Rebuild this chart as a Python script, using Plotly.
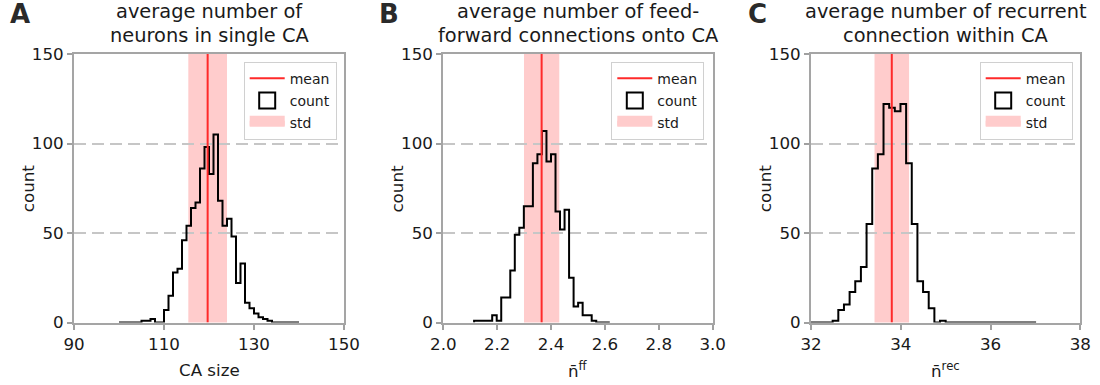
import numpy as np
import plotly.graph_objects as go

# ---------------- data ----------------
# Panel A: CA size histogram (bins of width 1 starting at 100)
a_bin_start = 100.0
a_bin_width = 1.0
a_counts = [0, 0, 0, 0, 0, 1, 1, 2, 0, 0,
            7, 15, 28, 30, 46, 54, 64, 67, 86, 98,
            83, 105, 68, 54, 58, 48, 22, 33, 11, 8,
            5, 3, 2, 1, 0, 0, 0, 0, 0, 0]
a_mean = 119.7
a_std = 4.3

# Panel B: feed-forward connections
b_bin_start = 2.1143
b_bin_width = 0.01679
b_counts = [1, 1, 1, 1, 4, 1, 14, 14, 29, 49,
            53, 65, 65, 89, 94, 107, 90, 94, 62, 52,
            63, 25, 9, 11, 4, 4, 1, 0, 0, 0]
b_mean = 2.365
b_std = 0.0655

# Panel C: recurrent connections
c_bin_start = 31.979
c_bin_width = 0.1259
c_counts = [0, 0, 0, 0, 1, 7, 10, 17, 23, 31,
            55, 86, 94, 122, 120, 118, 122, 89, 55, 23,
            17, 8, 0, 1, 0, 0, 0, 0, 0, 0,
            0, 0, 0, 0, 0, 0, 0, 0, 0, 0]
c_mean = 33.8
c_std = 0.385

panel_letters = ["A", "B", "C"]
title_lines = [["average number of", "neurons in single CA"],
               ["average number of feed-", "forward connections onto CA"],
               ["average number of recurrent", "connection within CA"]]
x_labels = ["CA size", "n\u0304<sup>ff</sup>", "n\u0304<sup>rec</sup>"]
x_ranges = [[90, 150], [2.0, 3.0], [32, 38]]
x_tickvals = [[90, 110, 130, 150], [2.0, 2.2, 2.4, 2.6, 2.8, 3.0], [32, 34, 36, 38]]
x_ticktext = [["90", "110", "130", "150"], ["2.0", "2.2", "2.4", "2.6", "2.8", "3.0"],
              ["32", "34", "36", "38"]]
y_range = [0, 150]
y_tickvals = [0, 50, 100, 150]
legend_names = ["mean", "count", "std"]

panels = [
    dict(start=a_bin_start, width=a_bin_width, counts=a_counts, mean=a_mean, std=a_std),
    dict(start=b_bin_start, width=b_bin_width, counts=b_counts, mean=b_mean, std=b_std),
    dict(start=c_bin_start, width=c_bin_width, counts=c_counts, mean=c_mean, std=c_std),
]

# ---------------- style / layout ----------------
W, H = 1100, 385
FONT = "DejaVu Sans"
TXT = "#1a1a1a"
SPINE = "rgba(105,105,105,0.6)"
TICKC = "#a0a0a0"
GRID = "#c6c6c6"
MEAN_COLOR = "#ff2a2a"
STD_COLOR = "rgba(255,0,0,0.2)"
STD_LEGEND = "#ffcccc"

ax_left = [74, 443.3, 811]
ax_right = [344, 712.7, 1080.3]
ax_top, ax_bottom = 54, 322.5
legend_right = [336.7, 704.3, 1072.7]
legend_top = 61.7


def px(xp):
    return xp / W


def py(yp):
    return 1 - yp / H


fig = go.Figure()
layout = dict(width=W, height=H,
              margin=dict(l=0, r=0, t=0, b=0, pad=0, autoexpand=False),
              paper_bgcolor="white", plot_bgcolor="white",
              font=dict(family=FONT, color=TXT), showlegend=True)
annotations = []

for i, p in enumerate(panels):
    sfx = "" if i == 0 else str(i + 1)
    xref, yref = "x" + sfx, "y" + sfx
    leg = "legend" + sfx
    counts = np.array(p["counts"], dtype=float)
    edges = p["start"] + p["width"] * np.arange(len(counts) + 1)

    # std band (below grid like matplotlib axvspan)
    fig.add_shape(type="rect", x0=p["mean"] - p["std"], x1=p["mean"] + p["std"],
                  y0=0, y1=1, xref=xref, yref=yref + " domain",
                  fillcolor=STD_COLOR, line=dict(width=0), layer="below")

    # step histogram outline
    sx = np.concatenate([[edges[0]], edges[:-1], [edges[-1]]])
    sy = np.concatenate([[0.0], counts, [0.0]])
    fig.add_trace(go.Scatter(
        x=sx, y=sy, mode="lines", line=dict(color="black", width=2, shape="hv"),
        xaxis=xref, yaxis=yref, showlegend=False, hoverinfo="skip"))

    # mean line
    fig.add_trace(go.Scatter(
        x=[p["mean"], p["mean"]], y=y_range, mode="lines",
        line=dict(color=MEAN_COLOR, width=2), name=legend_names[0],
        xaxis=xref, yaxis=yref, legend=leg, legendgroup=f"m{i}",
        hoverinfo="skip"))
    # legend proxies for the histogram outline and std band
    fig.add_trace(go.Scatter(
        x=[None], y=[None], mode="markers", name=legend_names[1],
        marker=dict(symbol="square-open", size=16, color="black",
                    line=dict(color="black", width=2)),
        xaxis=xref, yaxis=yref, legend=leg, legendgroup=f"c{i}", hoverinfo="skip"))
    fig.add_trace(go.Scatter(
        x=[None], y=[None], mode="lines", fill="toself", fillcolor=STD_LEGEND,
        line=dict(color=STD_LEGEND, width=10), name=legend_names[2],
        xaxis=xref, yaxis=yref, legend=leg, legendgroup=f"s{i}", hoverinfo="skip"))

    layout["xaxis" + sfx] = dict(
        domain=[px(ax_left[i]), px(ax_right[i])], anchor=yref, range=x_ranges[i],
        tickvals=x_tickvals[i], ticktext=x_ticktext[i], automargin=False,
        showline=True, mirror=True, linecolor=SPINE, linewidth=2,
        ticks="outside", ticklen=5, tickwidth=1.5, tickcolor=TICKC,
        showgrid=False, zeroline=False, tickfont=dict(size=16.7, color=TXT, family=FONT))
    layout["yaxis" + sfx] = dict(
        domain=[py(ax_bottom), py(ax_top)], anchor=xref, range=y_range, automargin=False,
        tickvals=y_tickvals, showline=True, mirror=True, linecolor=SPINE, linewidth=2,
        ticks="outside", ticklen=5, tickwidth=1.5, tickcolor=TICKC,
        showgrid=True, gridcolor=GRID, gridwidth=1.5, griddash="12px,6px",
        zeroline=False, tickfont=dict(size=16.7, color=TXT, family=FONT))
    layout[leg] = dict(
        x=px(legend_right[i]), y=py(legend_top), xanchor="right", yanchor="top",
        bgcolor="rgba(255,255,255,0.85)", bordercolor="#d0d0d0", borderwidth=1,
        font=dict(size=14, family=FONT, color=TXT), tracegroupgap=1, itemwidth=35,
        itemclick=False, itemdoubleclick=False)

    cx = (ax_left[i] + ax_right[i]) / 2
    for k, (line_text, ly) in enumerate(zip(title_lines[i], [11.6, 35.5])):
        annotations.append(dict(text=line_text, x=px(cx), y=py(ly), xref="paper", yref="paper",
                                xanchor="center", yanchor="middle", showarrow=False,
                                font=dict(size=19.4, family=FONT, color=TXT)))
    annotations.append(dict(text=f"<b>{panel_letters[i]}</b>", x=px(ax_left[i] - 54), y=py(14.5),
                            xref="paper", yref="paper", xanchor="center", yanchor="middle",
                            showarrow=False, font=dict(size=26, family=FONT, color="#2a2a2a")))
    annotations.append(dict(text="count", x=px(ax_left[i] - 46), y=py((ax_top + ax_bottom) / 2),
                            xref="paper", yref="paper", xanchor="center", yanchor="middle",
                            textangle=-90, showarrow=False,
                            font=dict(size=16.7, family=FONT, color=TXT)))
    annotations.append(dict(text=x_labels[i], x=px(cx), y=py(370), xref="paper", yref="paper",
                            xanchor="center", yanchor="middle", showarrow=False,
                            font=dict(size=16.7, family=FONT, color=TXT)))

layout["annotations"] = annotations
fig.update_layout(**layout)
fig.write_html("out.html", config={"displayModeBar": False},
               post_script="document.body.style.margin='0';document.body.style.padding='0';")
